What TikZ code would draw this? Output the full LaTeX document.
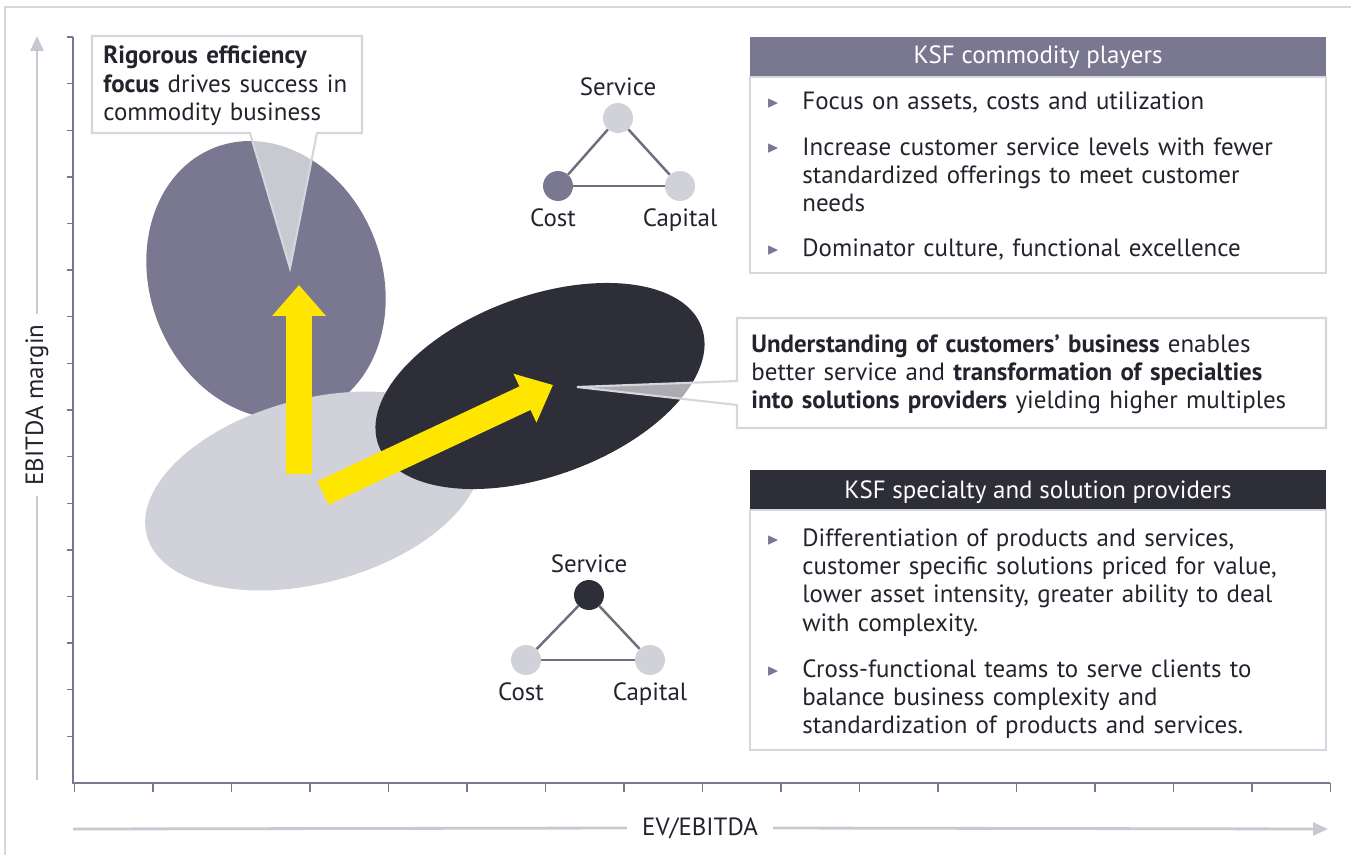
\documentclass[tikz,border=0pt]{standalone}
\usepackage{amssymb}
\usepackage{fontspec}
\setmainfont{PT Sans}
\usetikzlibrary{positioning,arrows.meta}
\definecolor{eygray}{RGB}{121,120,144}
\definecolor{eydark}{RGB}{46,46,56}
\definecolor{eylight}{RGB}{208,209,217}
\definecolor{eyyellow}{RGB}{255,230,0}
\definecolor{axisc}{RGB}{120,120,150}
\definecolor{rimc}{RGB}{214,214,222}
\definecolor{arrc}{RGB}{200,200,210}
\definecolor{linec}{RGB}{110,110,125}
\definecolor{inkc}{RGB}{35,35,45}
\tikzset{txt/.style={anchor=base west,inner sep=0,text width=12cm,align=left,text=inkc,font=\fontsize{14.2}{16.2}\selectfont},
  head/.style={anchor=base,inner sep=0,text=white,font=\fontsize{14.2}{16.2}\selectfont},
  lbl/.style={inner sep=0,text=inkc,font=\fontsize{14.2}{16.2}\selectfont},
  bul/.style={anchor=base,inner sep=0,text=axisc,font=\small},
  dot/.style={circle,minimum size=0.6cm,inner sep=0},
  callout/.style={fill=white,fill opacity=0.6,draw=rimc,line width=1.2pt},
  ybar/.style={draw=eyyellow,line width=0.52cm,-{Triangle[length=0.62cm,width=1.04cm]}},
  axarrow/.style={arrc,line width=1.6pt}}

\begin{document}
\begin{tikzpicture}[x=0.02cm,y=-0.02cm]
    \useasboundingbox (0,0) rectangle (1351,855);
    \draw[rimc,line width=1.2pt] (5,855) -- (5,7) -- (1351,7);

    % axes
    \draw[axisc,line width=0.8pt] (73,37) -- (73,783) -- (1330,783);
    \foreach \k in {0,...,15} \draw[axisc,line width=0.8pt] (67,37+46.625*\k) -- (73,37+46.625*\k);
    \foreach \k in {0,...,16} \draw[axisc,line width=0.8pt] (74.5+78.5*\k,783) -- (74.5+78.5*\k,792);

    \node[lbl,rotate=90,inner sep=0.2cm] (ylab) at (37,405) {EBITDA margin};
    \node[lbl,inner sep=0.3cm] (xlab) at (700,828) {EV/EBITDA};
    \coordinate (ybot) at (37,780);
    \coordinate (ytop) at (37,36);
    \coordinate (xleft) at (73,829);
    \coordinate (xright) at (1328,829);
    \draw[axarrow] (ybot) -- (ylab.west);
    \draw[axarrow,-{Triangle[length=0.3cm,width=0.26cm]}] (ylab.east) -- (ytop);
    \draw[axarrow] (xleft) -- (xlab.west);
    \draw[axarrow,-{Triangle[length=0.3cm,width=0.26cm]}] (xlab.east) -- (xright);

    % clusters
    \fill[eygray,rotate around={21:(266,280)}] (266,280) ellipse [x radius=116,y radius=142];
    \fill[eylight,rotate around={15:(313,491)}] (313,491) ellipse [x radius=172,y radius=92];
    \fill[eydark,rotate around={20:(540,386)}] (540,386) ellipse [x radius=172,y radius=90];

    \coordinate (v0) at (299,474);
    \coordinate (v1) at (299,285);
    \coordinate (d0) at (323,493);
    \coordinate (d1) at (553,385);
    \draw[ybar] (v0) -- (v1);
    \draw[ybar] (d0) -- (d1);

    % callouts
    \draw[callout] (92,36) -- (362,36) -- (362,133) -- (317,133) -- (290,268) -- (250,133) -- (92,133) -- cycle;
    \node[txt] (rigor) at (103,64) {\textbf{Rigorous efficiency}\\\textbf{focus} drives success in\\commodity business};
    \draw[callout] (737,318) -- (1326,318) -- (1326,428) -- (737,428) -- (737,405) -- (577,387) -- (737,381) -- cycle;
    \node[txt] (insight) at (751,352) {\textbf{Understanding of customers’ business} enables\\better service and \textbf{transformation of specialties}\\\textbf{into solutions providers} yielding higher multiples};

    % commodity triangle
    \node[dot,fill=eylight] (s1) at (618,118) {};
    \node[dot,fill=eygray] (c1) at (558,186) {};
    \node[dot,fill=eylight] (k1) at (680,186) {};
    \draw[linec,line width=1.4pt] (s1) -- (c1);
    \draw[linec,line width=1.4pt] (c1) -- (k1);
    \draw[linec,line width=1.4pt] (k1) -- (s1);
    \node[lbl,above=0.14cm of s1] {Service};
    \node[lbl,below=0.14cm of c1,xshift=-0.1cm] {Cost};
    \node[lbl,below=0.14cm of k1] {Capital};

    % specialty triangle
    \node[dot,fill=eydark] (s2) at (589,595) {};
    \node[dot,fill=eylight] (c2) at (526,660) {};
    \node[dot,fill=eylight] (k2) at (650,660) {};
    \draw[linec,line width=1.4pt] (s2) -- (c2);
    \draw[linec,line width=1.4pt] (c2) -- (k2);
    \draw[linec,line width=1.4pt] (k2) -- (s2);
    \node[lbl,above=0.14cm of s2] {Service};
    \node[lbl,below=0.14cm of c2,xshift=-0.1cm] {Cost};
    \node[lbl,below=0.14cm of k2] {Capital};

    % commodity players box
    \fill[eygray] (750,37) rectangle (1326,77);
    \draw[rimc,line width=1.2pt] (750,77) rectangle (1326,273);
    \node[head] (hcom) at (1038,64) {KSF commodity players};
    \node[bul] at (773,108) {$\blacktriangleright$};
    \node[txt] (com1) at (802,110) {Focus on assets, costs and utilization};
    \node[bul] at (773,153) {$\blacktriangleright$};
    \node[txt] (com2) at (802,155) {Increase customer service levels with fewer\\standardized offerings to meet customer\\needs};
    \node[bul] at (773,254) {$\blacktriangleright$};
    \node[txt] (com3) at (802,256) {Dominator culture, functional excellence};

    % specialty box
    \fill[eydark] (750,470) rectangle (1326,510);
    \draw[rimc,line width=1.2pt] (750,510) rectangle (1326,750);
    \node[head] (hspec) at (1038,498) {KSF specialty and solution providers};
    \node[bul] at (773,544) {$\blacktriangleright$};
    \node[txt] (spec1) at (802,546) {Differentiation of products and services,\\customer specific solutions priced for value,\\lower asset intensity, greater ability to deal\\with complexity.};
    \node[bul] at (773,675) {$\blacktriangleright$};
    \node[txt] (spec2) at (802,677) {Cross-functional teams to serve clients to\\balance business complexity and\\standardization of products and services.};
\end{tikzpicture}
\end{document}
